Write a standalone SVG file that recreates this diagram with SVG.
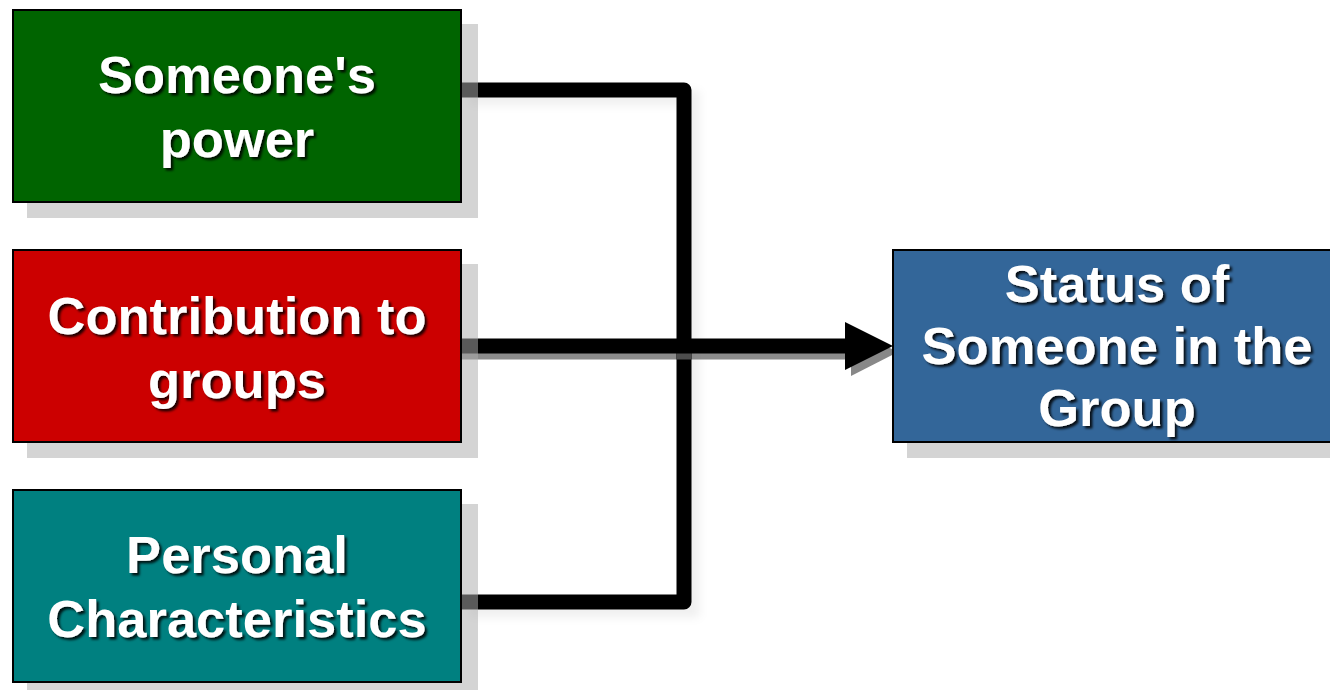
<svg xmlns="http://www.w3.org/2000/svg" width="1330" height="690" viewBox="0 0 1330 690">
  <style>
    .box { stroke: #000; stroke-width: 2; }
    .shadow { fill: #adadad; fill-opacity: 0.52; }
    .label { font-family: "Liberation Sans", Arial, sans-serif; font-weight: bold; font-size: 52.5px; fill: #fff; text-anchor: middle; filter: url(#textShadow); }
    .wire { fill: none; stroke: #000; stroke-width: 15; stroke-linejoin: round; }
    .wireShadow { fill: none; stroke: #777; stroke-width: 15; opacity: 0.85; }
  </style>
  <defs>
    <filter id="textShadow" x="-10%" y="-20%" width="120%" height="150%">
      <feDropShadow dx="2.5" dy="2.5" stdDeviation="1" flood-color="#000" flood-opacity="0.85"/>
    </filter>
    <filter id="soft" x="-10%" y="-10%" width="120%" height="120%">
      <feGaussianBlur stdDeviation="4"/>
    </filter>
  </defs>

  <rect width="1330" height="690" fill="#fff"/>

  <!-- connectors -->
  <g id="connectors">
    <path d="M461,90 H684 V602 H461" fill="none" stroke="#000" stroke-opacity="0.06" stroke-width="15" transform="translate(8,8)" filter="url(#soft)"/>
    <path class="wireShadow" d="M461,352 H850"/>
    <polygon points="851,329 898,352 851,376" fill="#888"/>
    <path class="wire" d="M461,90 H684 V602 H461"/>
    <path class="wireShadow" d="M677,352 H691" style="stroke:#555;opacity:0.9"/>
    <path class="wire" d="M461,346 H850" style="stroke-linejoin:miter"/>
    <polygon points="845,322 893,346 845,370" fill="#000"/>
  </g>

  <!-- source: power -->
  <g id="node-power">
    <rect class="shadow" x="27" y="24" width="451" height="194"/>
    <rect class="box" x="13" y="10" width="448" height="192" fill="#006400"/>
    <text class="label" x="237" y="93">Someone's</text>
    <text class="label" x="237" y="157">power</text>
  </g>

  <!-- source: contribution -->
  <g id="node-contribution">
    <rect class="shadow" x="27" y="264" width="451" height="194"/>
    <rect class="box" x="13" y="250" width="448" height="192" fill="#cc0000"/>
    <text class="label" x="237" y="334">Contribution to</text>
    <text class="label" x="237" y="398">groups</text>
  </g>

  <!-- source: characteristics -->
  <g id="node-characteristics">
    <rect class="shadow" x="27" y="504" width="451" height="194"/>
    <rect class="box" x="13" y="490" width="448" height="192" fill="#008080"/>
    <text class="label" x="237" y="573">Personal</text>
    <text class="label" x="237" y="637">Characteristics</text>
  </g>

  <!-- target: status -->
  <g id="node-status">
    <rect class="shadow" x="907" y="264" width="451" height="194"/>
    <rect class="box" x="893" y="250" width="448" height="192" fill="#336699"/>
    <text class="label" x="1117" y="302">Status of</text>
    <text class="label" x="1117" y="364">Someone in the</text>
    <text class="label" x="1117" y="426">Group</text>
  </g>
</svg>
